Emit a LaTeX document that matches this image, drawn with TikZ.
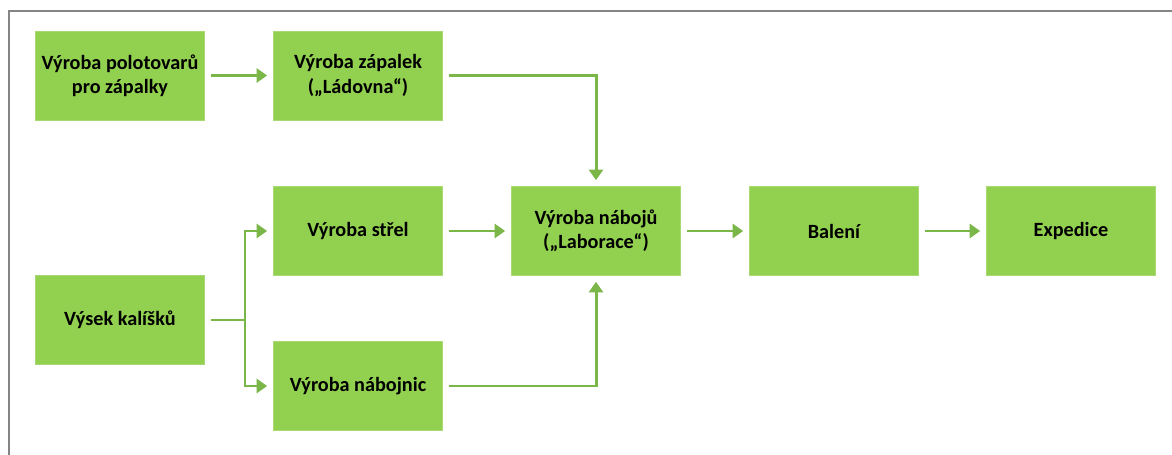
\documentclass[tikz,border=0pt]{standalone}
\usepackage{fontspec}
\setmainfont{Carlito}
\usetikzlibrary{arrows.meta}
\definecolor{boxgreen}{HTML}{92D050}
\definecolor{arrowgreen}{HTML}{7AB648}
\definecolor{framegray}{HTML}{858585}
\begin{document}
\begin{tikzpicture}

\tikzset{mybox/.style={fill=boxgreen, draw=boxgreen!80!white, line width=0.4pt, minimum width=3.38cm, minimum height=1.78cm, inner sep=0pt, align=center, text=black, font=\fontsize{11.5}{13.8}\selectfont\bfseries}}
\tikzset{myarrow/.style={draw=arrowgreen, line width=1.7pt, -{Triangle[length=6pt,width=8pt]}, shorten <=0.13cm, shorten >=0.12cm}}

\useasboundingbox (0,0) rectangle (23.44,-9.1);
\draw[framegray, line width=1.2pt] (0.18,-9.1) -- (0.18,-0.22) -- (23.44,-0.22);

\node[mybox] (polotovary) at (2.4,-1.51) {Výroba polotovarů\\pro zápalky};
\node[mybox] (ladovna) at (7.16,-1.51) {Výroba zápalek\\(„Ládovna“)};
\node[mybox] (strely) at (7.16,-4.62) {Výroba střel};
\node[mybox] (kalisky) at (2.4,-6.4) {Výsek kalíšků};
\node[mybox] (nabojnice) at (7.16,-7.72) {Výroba nábojnic};
\node[mybox] (laborace) at (11.92,-4.62) {Výroba nábojů\\(„Laborace“)};
\node[mybox] (baleni) at (16.68,-4.62) {Balení};
\node[mybox] (expedice) at (21.42,-4.62) {Expedice};

\coordinate (split) at (4.9,-6.4);

\draw[myarrow] (polotovary) -- (ladovna);
\draw[myarrow] (ladovna.east) -| (laborace.north);
\draw[myarrow] (strely) -- (laborace);
\draw[myarrow] (nabojnice.east) -| (laborace.south);
\draw[myarrow] (laborace) -- (baleni);
\draw[myarrow] (baleni) -- (expedice);
\draw[draw=arrowgreen, line width=1.7pt, shorten <=0.13cm] (kalisky.east) -- (split);
\draw[myarrow, shorten <=0pt] (split) |- (strely.west);
\draw[myarrow, shorten <=0pt] (split) |- (nabojnice.west);

\end{tikzpicture}
\end{document}
